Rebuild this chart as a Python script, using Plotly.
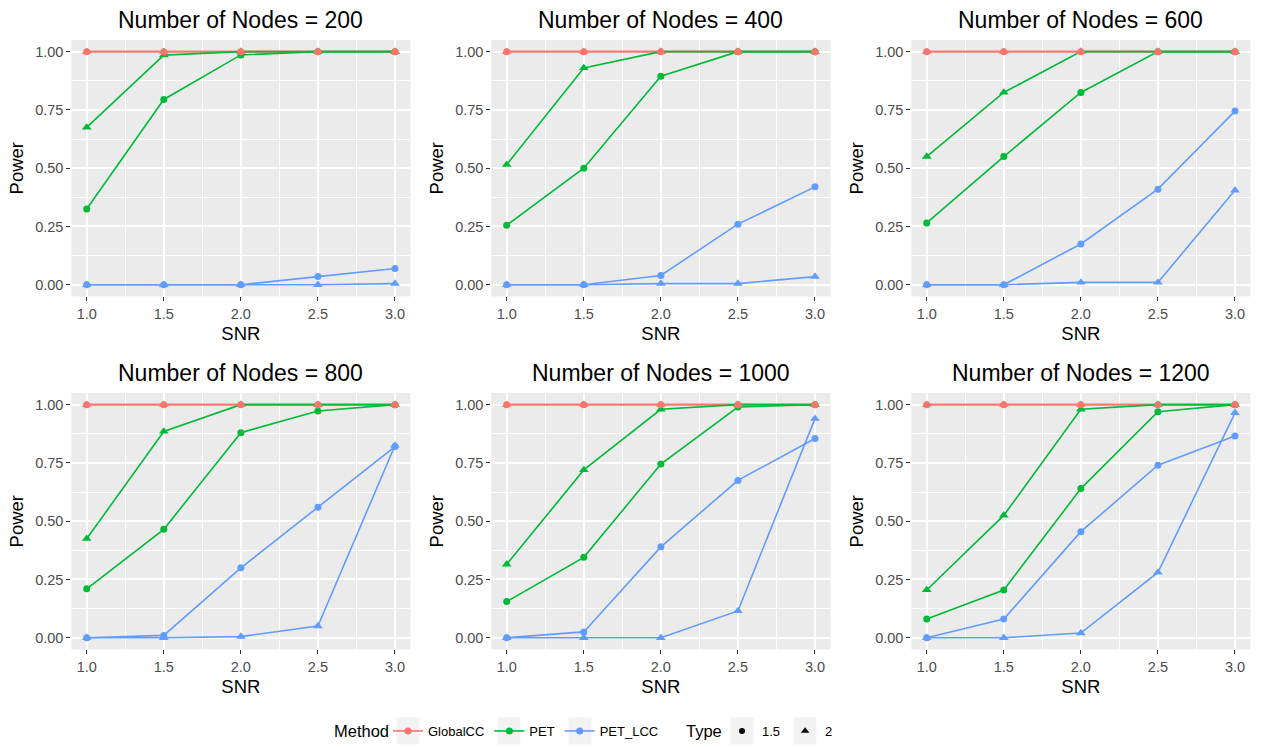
import plotly.graph_objects as go

# ---------------- data ----------------
snr = [1.0, 1.5, 2.0, 2.5, 3.0]
nodes = [200, 400, 600, 800, 1000, 1200]
methods = ["GlobalCC", "PET", "PET_LCC"]
types = ["1.5", "2"]
x_ticks = [1.0, 1.5, 2.0, 2.5, 3.0]
x_ticklabels = ["1.0", "1.5", "2.0", "2.5", "3.0"]
y_ticks = [0.0, 0.25, 0.5, 0.75, 1.0]
y_ticklabels = ["0.00", "0.25", "0.50", "0.75", "1.00"]

# one row per number of nodes (200, 400, 600, 800, 1000, 1200)
globalcc_type15 = [
    [1.00, 1.00, 1.00, 1.00, 1.00],
    [1.00, 1.00, 1.00, 1.00, 1.00],
    [1.00, 1.00, 1.00, 1.00, 1.00],
    [1.00, 1.00, 1.00, 1.00, 1.00],
    [1.00, 1.00, 1.00, 1.00, 1.00],
    [1.00, 1.00, 1.00, 1.00, 1.00],
]
globalcc_type2 = [
    [1.00, 1.00, 1.00, 1.00, 1.00],
    [1.00, 1.00, 1.00, 1.00, 1.00],
    [1.00, 1.00, 1.00, 1.00, 1.00],
    [1.00, 1.00, 1.00, 1.00, 1.00],
    [1.00, 1.00, 1.00, 1.00, 1.00],
    [1.00, 1.00, 1.00, 1.00, 1.00],
]
pet_type15 = [
    [0.325, 0.795, 0.986, 1.00, 1.00],
    [0.255, 0.500, 0.895, 1.00, 1.00],
    [0.265, 0.550, 0.825, 1.00, 1.00],
    [0.210, 0.465, 0.880, 0.973, 1.00],
    [0.155, 0.345, 0.745, 0.990, 1.00],
    [0.080, 0.205, 0.640, 0.970, 1.00],
]
pet_type2 = [
    [0.675, 0.985, 1.00, 1.00, 1.00],
    [0.515, 0.930, 1.00, 1.00, 1.00],
    [0.550, 0.825, 1.00, 1.00, 1.00],
    [0.425, 0.885, 1.00, 1.00, 1.00],
    [0.315, 0.720, 0.980, 1.00, 1.00],
    [0.205, 0.525, 0.980, 1.00, 1.00],
]
pet_lcc_type15 = [
    [0.000, 0.000, 0.000, 0.035, 0.070],
    [0.000, 0.000, 0.040, 0.260, 0.420],
    [0.000, 0.000, 0.175, 0.410, 0.745],
    [0.000, 0.010, 0.300, 0.560, 0.820],
    [0.000, 0.025, 0.390, 0.675, 0.855],
    [0.000, 0.080, 0.455, 0.740, 0.865],
]
pet_lcc_type2 = [
    [0.000, 0.000, 0.000, 0.000, 0.005],
    [0.000, 0.000, 0.005, 0.005, 0.035],
    [0.000, 0.000, 0.010, 0.010, 0.405],
    [0.000, 0.000, 0.005, 0.050, 0.825],
    [0.000, 0.000, 0.000, 0.115, 0.940],
    [0.000, 0.000, 0.020, 0.280, 0.965],
]

series = {
    "GlobalCC": {"1.5": globalcc_type15, "2": globalcc_type2},
    "PET": {"1.5": pet_type15, "2": pet_type2},
    "PET_LCC": {"1.5": pet_lcc_type15, "2": pet_lcc_type2},
}

# ---------------- styles ----------------
colors = {"GlobalCC": "#F8766D", "PET": "#00BA38", "PET_LCC": "#619CFF"}
symbols = {"1.5": "circle", "2": "triangle-up"}
msize = {"1.5": 7, "2": 8.5}
FONT = "Liberation Sans, Arial, Helvetica, sans-serif"

W, H = 1264, 747
x_dom_px = [(71.3, 410.4), (491.3, 830.4), (911.3, 1250.4)]
y_dom_px = [(40.0, 296.4), (393.0, 649.4)]


def px_x(v):
    return v / W


def px_y(v):
    return 1 - v / H


fig = go.Figure()
layout_axes = {}
annotations = []

for i, n in enumerate(nodes):
    row, col = divmod(i, 3)
    k = i + 1
    xa = "x" if k == 1 else f"x{k}"
    ya = "y" if k == 1 else f"y{k}"
    xd = [px_x(x_dom_px[col][0]), px_x(x_dom_px[col][1])]
    yd = [px_y(y_dom_px[row][1]), px_y(y_dom_px[row][0])]

    common = dict(
        showgrid=True, gridcolor="white", gridwidth=1.6,
        ticks="outside", ticklen=4, tickwidth=1.1, tickcolor="#333333",
        tickfont=dict(family=FONT, size=14.5, color="#4D4D4D"),
        zeroline=False, showline=False, automargin=False,
        fixedrange=True,
    )
    layout_axes["xaxis" if k == 1 else f"xaxis{k}"] = dict(
        domain=xd, anchor=ya, range=[0.9, 3.1],
        tickmode="array", tickvals=x_ticks, ticktext=x_ticklabels,
        minor=dict(showgrid=True, gridcolor="white", gridwidth=0.8,
                   tickmode="array", tickvals=[1.25, 1.75, 2.25, 2.75], ticks=""),
        title=dict(text="SNR", font=dict(family=FONT, size=18.5, color="black"), standoff=6),
        **common,
    )
    layout_axes["yaxis" if k == 1 else f"yaxis{k}"] = dict(
        domain=yd, anchor=xa, range=[-0.05, 1.05],
        tickmode="array", tickvals=y_ticks, ticktext=y_ticklabels,
        minor=dict(showgrid=True, gridcolor="white", gridwidth=0.8,
                   tickmode="array", tickvals=[0.125, 0.375, 0.625, 0.875], ticks=""),
        title=dict(text="Power", font=dict(family=FONT, size=18.5, color="black"), standoff=6),
        **common,
    )
    annotations.append(dict(
        text=f"Number of Nodes = {n}", xref="paper", yref="paper",
        x=(xd[0] + xd[1]) / 2, y=yd[1], yshift=5, xanchor="center", yanchor="bottom",
        showarrow=False, font=dict(family=FONT, size=23, color="black"),
    ))

    # lines first
    for m in methods:
        for t in types:
            fig.add_trace(go.Scatter(
                x=snr, y=series[m][t][i], mode="lines", xaxis=xa, yaxis=ya,
                line=dict(color=colors[m], width=1.6), showlegend=False,
                hoverinfo="skip",
            ))
    # then points
    for m in ["PET", "PET_LCC", "GlobalCC"]:
        for t in types:
            fig.add_trace(go.Scatter(
                x=snr, y=series[m][t][i], mode="markers", xaxis=xa, yaxis=ya,
                marker=dict(color=colors[m], symbol=symbols[t], size=msize[t], line=dict(width=0)),
                showlegend=False, name=f"{m} {t}",
            ))

# legend entries
for m in methods:
    fig.add_trace(go.Scatter(
        x=[None], y=[None], mode="lines+markers", name=m, legend="legend",
        line=dict(color=colors[m], width=1.6),
        marker=dict(color=colors[m], symbol="circle", size=7),
        xaxis="x", yaxis="y",
    ))
for t in types:
    fig.add_trace(go.Scatter(
        x=[None], y=[None], mode="markers", name=t, legend="legend2",
        marker=dict(color="black", symbol=symbols[t], size=msize[t] - 1),
        xaxis="x", yaxis="y",
    ))

# legend titles and grey key backgrounds
LEG_Y = 731
annotations.append(dict(text="Method", xref="paper", yref="paper", x=px_x(332), y=px_y(LEG_Y),
                        xanchor="left", yanchor="middle", showarrow=False,
                        font=dict(family=FONT, size=16.5, color="black")))
annotations.append(dict(text="Type", xref="paper", yref="paper", x=px_x(684), y=px_y(LEG_Y),
                        xanchor="left", yanchor="middle", showarrow=False,
                        font=dict(family=FONT, size=16.5, color="black")))
key_centers = [408, 509, 580, 742, 805]
shapes = [
    dict(type="rect", xref="paper", yref="paper",
         x0=px_x(c - 11.5), x1=px_x(c + 11.5), y0=px_y(LEG_Y + 13.5), y1=px_y(LEG_Y - 13.5),
         fillcolor="#F2F2F2", line=dict(width=0), layer="below")
    for c in key_centers
]

fig.update_layout(
    width=W, height=H,
    margin=dict(l=0, r=0, t=0, b=0),
    paper_bgcolor="white", plot_bgcolor="#EBEBEB",
    font=dict(family=FONT, color="black"),
    annotations=annotations,
    shapes=shapes,
    showlegend=True,
    legend=dict(
        orientation="h", x=px_x(388), xanchor="left", y=px_y(LEG_Y), yanchor="middle",
        font=dict(family=FONT, size=13), bgcolor="rgba(0,0,0,0)",
        itemclick=False, itemdoubleclick=False,
    ),
    legend2=dict(
        orientation="h", x=px_x(722), xanchor="left", y=px_y(LEG_Y), yanchor="middle",
        font=dict(family=FONT, size=13), bgcolor="rgba(0,0,0,0)",
        itemclick=False, itemdoubleclick=False,
    ),
    **layout_axes,
)

fig.write_html(
    "out.html",
    config={"displayModeBar": False},
    post_script="document.body.style.margin='0';document.body.style.overflow='hidden';",
)
